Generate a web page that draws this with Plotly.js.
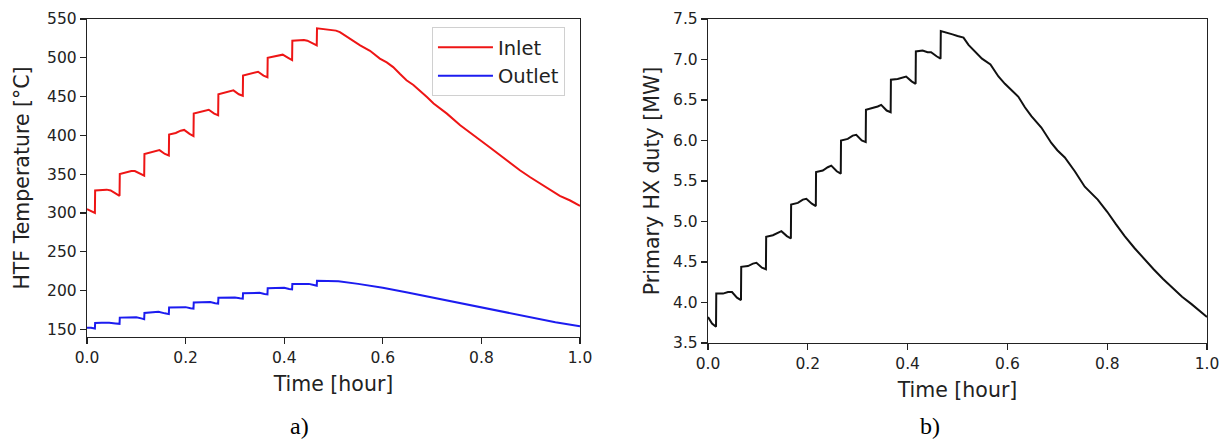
<!DOCTYPE html>
<html>
<head>
<meta charset="utf-8">
<script src="https://cdn.plot.ly/plotly-3.0.1.min.js"></script>
<style>html,body{margin:0;padding:0;background:#fff;}#chart{width:1220px;height:442px;}</style>
</head>
<body>
<div id="chart"></div>
<script>
// ---- Data ----
const inletTime = [0.000,0.008,0.016,0.0165,0.030,0.040,0.048,0.058,0.066,
  0.0665,0.080,0.090,0.097,0.108,0.116,
  0.1165,0.130,0.140,0.147,0.158,0.166,
  0.1665,0.180,0.190,0.197,0.208,0.216,
  0.2165,0.230,0.240,0.247,0.258,0.266,
  0.2665,0.280,0.290,0.297,0.308,0.316,
  0.3165,0.330,0.340,0.347,0.358,0.366,
  0.3665,0.380,0.390,0.397,0.408,0.416,
  0.4165,0.430,0.440,0.447,0.458,0.466,
  0.4665,0.480,0.493,0.505,0.513,
  0.527,0.540,0.554,0.574,0.594,0.608,0.621,0.635,0.648,0.662,0.675,0.690,0.703,0.716,0.730,
  0.757,0.777,0.797,0.818,0.838,0.858,0.878,0.899,0.919,0.939,0.959,0.980,1.000];
const inletTemp = [305,303,300,329,330,330,329,325,322,
  350,352,354,354,350,348,
  376,378,380,381,376,374,
  401,403,406,407,402,399,
  428,430,432,433,428,426,
  453,455,457,458,453,451,
  477,479,481,482,477,475,
  500,502,503,504,500,497,
  522,523,523,522,519,516,
  538,537,536,535,533,
  527,522,516,509,499,494,488,479,471,465,458,449,441,435,428,
  413,404,394,384,374,364,355,346,338,330,322,316,309];

const outletTime = [0.000,0.008,0.016,0.0165,0.030,0.045,0.058,0.066,
  0.0665,0.085,0.100,0.110,0.116,
  0.1165,0.130,0.145,0.158,0.166,
  0.1665,0.185,0.200,0.210,0.216,
  0.2165,0.235,0.250,0.260,0.266,
  0.2665,0.285,0.300,0.310,0.316,
  0.3165,0.335,0.350,0.360,0.366,
  0.3665,0.385,0.400,0.410,0.416,
  0.4165,0.435,0.450,0.460,0.466,
  0.4665,0.490,0.510,
  0.550,0.600,0.650,0.700,0.750,0.800,0.850,0.900,0.950,1.000];
const outletTemp = [152,152,151,158,158.5,158.5,157.5,157,
  165,165.5,165.5,164,163,
  171,171.5,172.5,170.5,169.5,
  178,178.5,178.5,177,176.5,
  184.5,185,185,183.5,183,
  190.5,191,191,190,189.5,
  196.5,197,197,195.5,195,
  203,203.5,203.5,202,201.5,
  208.5,209,208.5,207,206,
  212.5,212.5,212,
  208.5,203.5,197.5,191,184.5,178,171.5,165,159,154];

const dutyTime = [0.000,0.008,0.016,0.0165,0.030,0.040,0.048,0.058,0.066,
  0.0665,0.080,0.090,0.097,0.108,0.116,
  0.1165,0.130,0.140,0.147,0.158,0.166,
  0.1665,0.180,0.190,0.197,0.208,0.216,
  0.2165,0.230,0.240,0.247,0.258,0.266,
  0.2665,0.280,0.290,0.297,0.308,0.316,
  0.3165,0.330,0.340,0.347,0.358,0.366,
  0.3665,0.380,0.390,0.397,0.408,0.416,
  0.4165,0.430,0.440,0.447,0.458,0.466,
  0.4665,0.480,0.490,0.500,0.512,0.522,
  0.535,0.549,0.566,0.582,0.595,0.609,0.622,0.635,0.648,0.668,0.688,0.700,0.715,0.735,0.755,
  0.781,0.800,0.817,0.835,0.855,0.875,0.893,0.912,0.931,0.950,0.969,0.985,1.000];
const dutyMW = [3.82,3.74,3.70,4.11,4.11,4.13,4.13,4.06,4.03,
  4.44,4.45,4.48,4.49,4.43,4.41,
  4.81,4.83,4.86,4.88,4.82,4.79,
  5.21,5.23,5.27,5.28,5.22,5.19,
  5.61,5.63,5.67,5.69,5.62,5.59,
  6.00,6.02,6.06,6.07,6.00,5.98,
  6.38,6.40,6.42,6.44,6.37,6.35,
  6.75,6.76,6.78,6.79,6.73,6.70,
  7.10,7.11,7.09,7.09,7.04,7.01,
  7.35,7.33,7.31,7.29,7.27,7.18,
  7.10,7.01,6.94,6.79,6.70,6.62,6.54,6.41,6.30,6.16,5.97,5.88,5.79,5.62,5.43,
  5.27,5.12,4.97,4.82,4.67,4.53,4.41,4.29,4.18,4.07,3.98,3.90,3.82];

const timeTicks = [0, 0.2, 0.4, 0.6, 0.8, 1.0];
const tempTicks = [150, 200, 250, 300, 350, 400, 450, 500, 550];
const dutyTicks = [3.5, 4.0, 4.5, 5.0, 5.5, 6.0, 6.5, 7.0, 7.5];
const seriesNames = ['Inlet', 'Outlet'];
const xTitle = 'Time [hour]';
const yTitleA = 'HTF Temperature [°C]';
const yTitleB = 'Primary HX duty [MW]';
const captions = ['a)', 'b)'];

// ---- Styling ----
const FONT = 'DejaVu Sans, sans-serif';
const TXT = '#222';
const axisCommon = {
  showline: true, mirror: true, linecolor: '#222', linewidth: 1.2,
  showgrid: false, zeroline: false,
  ticks: 'outside', ticklen: 6, tickwidth: 1.2, tickcolor: '#222',
  ticklabeloverflow: 'allow',
  tickfont: {family: FONT, size: 15.5, color: TXT},
  title: {font: {family: FONT, size: 20.5, color: TXT}}
};
function ax(extra) { return Object.assign({}, JSON.parse(JSON.stringify(axisCommon)), extra); }

const traces = [
  {x: inletTime, y: inletTemp, name: seriesNames[0], type: 'scatter', mode: 'lines',
   line: {color: '#ee1515', width: 2}, xaxis: 'x', yaxis: 'y'},
  {x: outletTime, y: outletTemp, name: seriesNames[1], type: 'scatter', mode: 'lines',
   line: {color: '#1c1cf0', width: 2}, xaxis: 'x', yaxis: 'y'},
  {x: dutyTime, y: dutyMW, name: 'duty', type: 'scatter', mode: 'lines', showlegend: false,
   line: {color: '#111', width: 2}, xaxis: 'x2', yaxis: 'y2'}
];

const xA = ax({domain: [0, 0.4402], range: [0, 1], tickvals: timeTicks, tickformat: '.1f', anchor: 'y'});
xA.title.text = xTitle; xA.title.standoff = 10;
const yA = ax({domain: [0.0185, 1], range: [140, 550], tickvals: tempTicks, anchor: 'x'});
yA.title.text = yTitleA; yA.title.standoff = 12;
const xB = ax({domain: [0.5545, 1], range: [0, 1], tickvals: timeTicks, tickformat: '.1f', anchor: 'y2'});
xB.title.text = xTitle; xB.title.standoff = 10;
const yB = ax({domain: [0, 1], range: [3.5, 7.5], tickvals: dutyTicks, tickformat: '.1f', anchor: 'x2'});
yB.title.text = yTitleB; yB.title.standoff = 8;

const layout = {
  width: 1220, height: 442,
  margin: {l: 87, r: 13, t: 19, b: 99, pad: 0},
  paper_bgcolor: '#fff', plot_bgcolor: '#fff',
  showlegend: true,
  legend: {x: 0.308, y: 0.975, xanchor: 'left', yanchor: 'top',
    bgcolor: 'rgba(255,255,255,0.85)', bordercolor: '#d0d0d0', borderwidth: 1,
    font: {family: FONT, size: 19.5, color: TXT}, itemwidth: 55},
  xaxis: xA, yaxis: yA, xaxis2: xB, yaxis2: yB,
  annotations: [
    {text: captions[0], xref: 'paper', yref: 'paper', x: 0.190, y: -0.255,
     xanchor: 'center', yanchor: 'middle', showarrow: false,
     font: {family: 'Liberation Serif, Times New Roman, serif', size: 24, color: '#000'}},
    {text: captions[1], xref: 'paper', yref: 'paper', x: 0.7527, y: -0.255,
     xanchor: 'center', yanchor: 'middle', showarrow: false,
     font: {family: 'Liberation Serif, Times New Roman, serif', size: 24, color: '#000'}}
  ]
};

Plotly.newPlot('chart', traces, layout, {staticPlot: true, displayModeBar: false});
</script>
</body>
</html>
